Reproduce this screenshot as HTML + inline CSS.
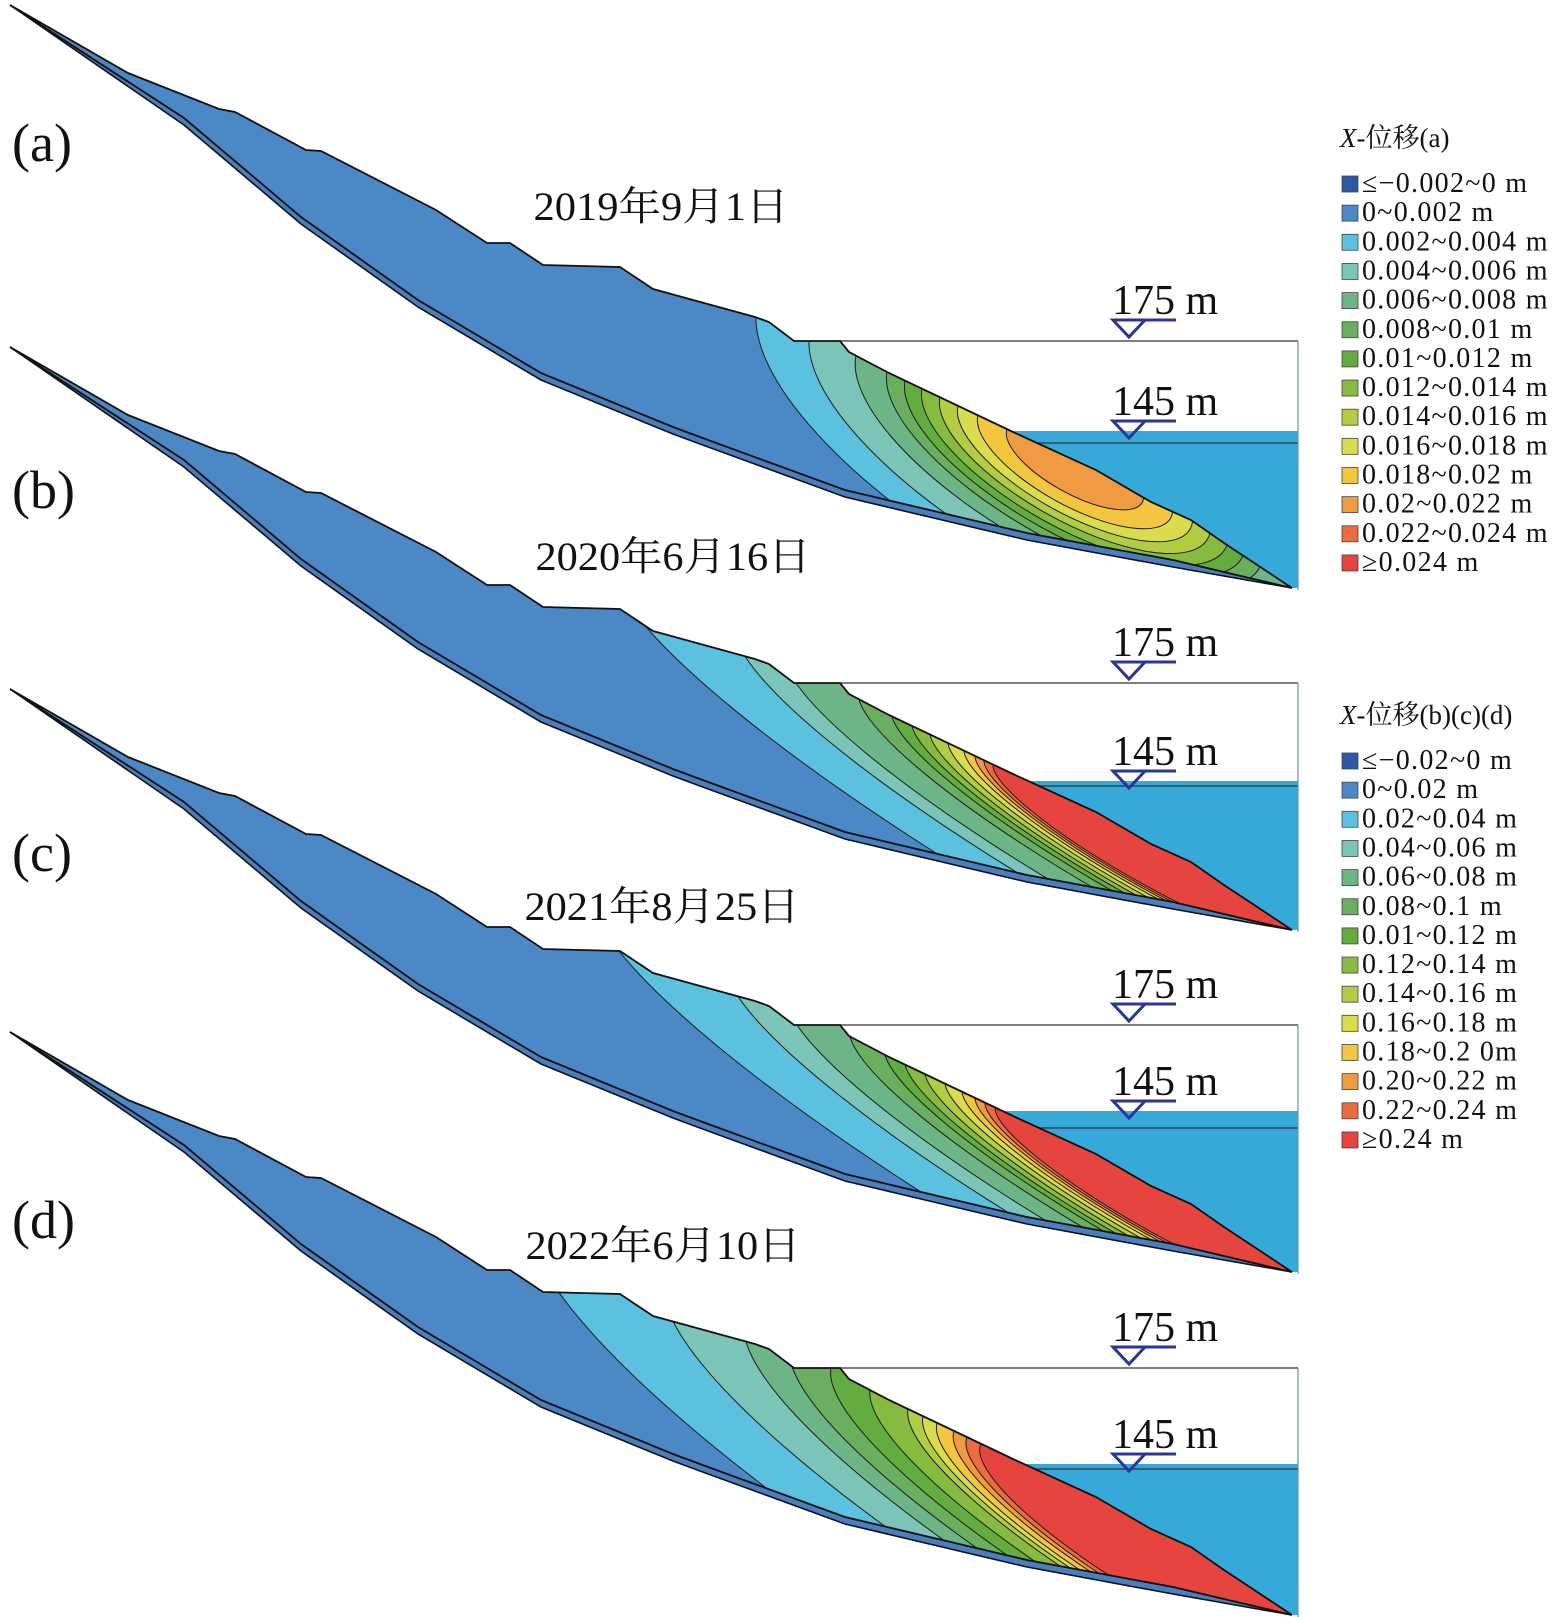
<!DOCTYPE html>
<html><head><meta charset="utf-8"><style>
html,body{margin:0;padding:0;background:#fff;overflow:hidden;width:1568px;height:1617px}
svg{display:block}
text{font-family:"Liberation Serif","Noto Serif CJK SC",serif;fill:#111}
</style></head><body>
<svg id="fig" width="1568" height="1617" viewBox="0 0 1568 1617" xmlns="http://www.w3.org/2000/svg"></svg>
<script>
// ---- data ----
const bandColors = ["#2a5aa6","#4d88c6","#5cc0df","#7cc3b8","#6db487","#6aaf5f","#63ac3f","#86bb3f","#b2cc44","#d9dc4c","#f4c640","#f09a42","#ec6c3f","#e6443f"];
const legendA = ["≤−0.002~0 m","0~0.002 m","0.002~0.004 m","0.004~0.006 m","0.006~0.008 m","0.008~0.01 m","0.01~0.012 m","0.012~0.014 m","0.014~0.016 m","0.016~0.018 m","0.018~0.02 m","0.02~0.022 m","0.022~0.024 m","≥0.024 m"];
const legendB = ["≤−0.02~0 m","0~0.02 m","0.02~0.04 m","0.04~0.06 m","0.06~0.08 m","0.08~0.1 m","0.01~0.12 m","0.12~0.14 m","0.14~0.16 m","0.16~0.18 m","0.18~0.2 0m","0.20~0.22 m","0.22~0.24 m","≥0.24 m"];
const panelLabels = ["(a)","(b)","(c)","(d)"];
const panelDates = ["2019年9月1日","2020年6月16日","2021年8月25日","2022年6月10日"];
// x positions on slope surface where each band (index 2,3,...) begins
const bandStartsA = [756,809,856,887,905,922,940,958,978,1007];
const bandStartsB = [645,745,796,859,892,912,930,948,964,975,984,993];
const bandStartsC = [619,738,797,850,885,905,925,945,962,975,985,995];
const bandStartsD = [559,673,746,792,831,870,908,923,937,954,967,981];
const topPts = [[10,5],[128,73],[219,109],[235,112],[306,150],[321,151],[436,210],[487,243],[510,243],[543,265],[620,267],[653,289],[755,317],[769,322],[794,341],[840,341],[849,352],[889,373],[1013,432],[1096,470],[1151,502],[1191,520],[1224,543],[1292,588]];
const botPts = [[10,5],[184,118],[301,217],[418,300],[541,373],[673,427],[700,437],[845,490],[1027,533],[1173,560],[1292,588]];

const panels = [
 {off:0,   starts:bandStartsA, cx:1075, cy:465, k:2.7, water:431-0,    line145:443,  lbl:141, date:[661,220]},
 {off:342, starts:bandStartsB, cx:1160, cy:512, k:5.5, water:781-342,  line145:786-342, lbl:488, date:[673,570]},
 {off:684, starts:bandStartsC, cx:1170, cy:517, k:5.5, water:1111-684, line145:1128-684, lbl:851, date:[662,920]},
 {off:1027,starts:bandStartsD, cx:1205, cy:540, k:4.5, water:1464-1027,line145:1469-1027, lbl:1218, date:[663,1259]}
];
const ANG = 29*Math.PI/180;
const NS="http://www.w3.org/2000/svg";
const svg=document.getElementById('fig');
function mk(tag,attrs,parent){const e=document.createElementNS(NS,tag);for(const k in attrs)e.setAttribute(k,attrs[k]);(parent||svg).appendChild(e);return e;}
function surfY(x){for(let i=0;i<topPts.length-1;i++){const a=topPts[i],b=topPts[i+1];if(x>=a[0]&&x<=b[0])return a[1]+(b[1]-a[1])*(x-a[0])/(b[0]-a[0]);}return topPts[topPts.length-1][1];}
const botOuter = botPts.map((p,i)=>(i===0||i===botPts.length-1)?p:[p[0],p[1]+7]);
const ptsStr = a=>a.map(p=>p.join(',')).join(' ');
const slopePoly = topPts.concat(botPts.slice(1,-1).reverse());
const layerPoly = botPts.concat(botOuter.slice(1,-1).reverse());

panels.forEach((P,pi)=>{
  const g=mk('g',{transform:`translate(0,${P.off})`});
  
  
  const wp=[[900,P.water],[1298,P.water],[1298,588]].concat(botOuter.filter(p=>p[0]>=900).reverse()).concat([[900,P.water]]);
  const w=mk('polygon',{points:ptsStr(wp),fill:'#36a9d9'},g);
  
  
  mk('line',{x1:1000,y1:P.line145,x2:1298,y2:P.line145,stroke:'#333','stroke-width':1.2},g);
  const l175=mk('line',{x1:840,y1:341,x2:1298,y2:341,stroke:'#555','stroke-width':1.4},g);
  
  
  mk('line',{x1:1298,y1:341,x2:1298,y2:590,stroke:'#6a8fa8','stroke-width':1.2},g);
  const cp=mk('clipPath',{id:'clip'+pi},g);
  mk('polygon',{points:ptsStr(slopePoly)},cp);
  const lay=mk('polygon',{points:ptsStr(layerPoly),fill:'#4a7fbf',stroke:'#111','stroke-width':1.6},g);
  
  
  const base=mk('polygon',{points:ptsStr(slopePoly),fill:bandColors[1]},g);
  
  
  const cg=mk('g',{'clip-path':`url(#clip${pi})`},g);
  P.starts.forEach((sx,j)=>{
    const sy=surfY(sx);const dx=sx-P.cx,dy=sy-P.cy;
    const u=dx*Math.cos(ANG)+dy*Math.sin(ANG);const v=-dx*Math.sin(ANG)+dy*Math.cos(ANG);
    const r=Math.sqrt(u*u+(v*P.k)*(v*P.k));
    const el=mk('ellipse',{cx:P.cx,cy:P.cy,rx:r,ry:r/P.k,transform:`rotate(29 ${P.cx} ${P.cy})`,fill:bandColors[j+2],stroke:'#1c1c1c','stroke-width':1},cg);
    
    
  });
  mk('polygon',{points:ptsStr(slopePoly),fill:'none',stroke:'#111','stroke-width':1.8},g);
  [[341,'175 m'],[P.water,'145 m']].forEach(([ly,t],q)=>{
    const by = q===0? ly-21 : ly-10;
    mk('line',{x1:1112,y1:by,x2:1176,y2:by,stroke:'#2b3594','stroke-width':3},g);
    const tri=mk('polygon',{points:`1113,${by} 1145,${by} 1129,${by+17}`,fill:'none',stroke:'#2b3594','stroke-width':3},g);
    
    
    const tx=mk('text',{x:1112,y:by-6,'font-size':42},g);
    tx.textContent=t;
    
    
  });
  const lt=mk('text',{x:12,y:P.lbl+20,'font-size':54});
  lt.textContent=panelLabels[pi];
  
  
  const dt=mk('text',{x:P.date[0],y:P.date[1],'font-size':40,'text-anchor':'middle',textLength:pi===0?255:275,lengthAdjust:'spacingAndGlyphs'});
  dt.textContent=panelDates[pi];
  
  
});

function legend(title,labels,ty,y0,nm){
  const g=mk('g',{});
  
  
  const t=mk('text',{x:1340,y:ty,'font-size':27},g);
  t.innerHTML='<tspan font-style="italic">X</tspan>-位移'+title;
  labels.forEach((s,i)=>{
    const y=y0+i*29.15;
    const r=mk('rect',{x:1342,y:y-16,width:16,height:16,fill:bandColors[i],stroke:'#444','stroke-width':0.8},g);
    
    
    const tx=mk('text',{x:1362,y:y,'font-size':28,'letter-spacing':'1.3'},g);
    tx.textContent=s;
    
    
  });
}
legend('(a)',legendA,147,192,'legend-a');
legend('(b)(c)(d)',legendB,724,769,'legend-bcd');
</script>
</body></html>
